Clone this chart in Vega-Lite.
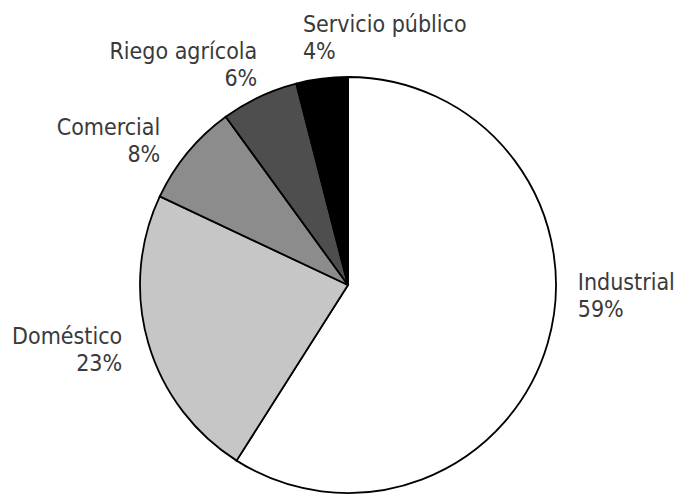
{
  "$schema": "https://vega.github.io/schema/vega-lite/v6.json",
  "width": 660,
  "height": 418,
  "padding": {"left": 18, "top": 76, "right": 0, "bottom": 0},
  "autosize": {"type": "none"},
  "background": "white",
  "config": {"view": {"stroke": null}},
  "data": {
    "values": [
      {"idx": 1, "category": "Industrial", "share": 59, "label": "Industrial\n59%"},
      {"idx": 2, "category": "Doméstico", "share": 23, "label": "Doméstico\n23%"},
      {"idx": 3, "category": "Comercial", "share": 8, "label": "Comercial\n8%"},
      {"idx": 4, "category": "Riego agrícola", "share": 6, "label": "Riego agrícola\n6%"},
      {"idx": 5, "category": "Servicio público", "share": 4, "label": "Servicio público\n4%"}
    ]
  },
  "encoding": {
    "theta": {"field": "share", "type": "quantitative", "stack": true},
    "order": {"field": "idx", "type": "quantitative"}
  },
  "layer": [
    {
      "mark": {"type": "arc", "outerRadius": 208, "stroke": "black", "strokeWidth": 1.8},
      "encoding": {
        "color": {
          "field": "category",
          "type": "nominal",
          "scale": {
            "domain": ["Industrial", "Doméstico", "Comercial", "Riego agrícola", "Servicio público"],
            "range": ["#ffffff", "#c6c6c6", "#8c8c8c", "#4e4e4e", "#000000"]
          },
          "legend": null
        }
      }
    },
    {
      "mark": {
        "type": "text",
        "radius": 232,
        "font": "DejaVu Sans Condensed, sans-serif",
        "fontSize": 23,
        "fill": "#3a3a3a",
        "lineBreak": "\n",
        "lineHeight": 27,
        "baseline": "alphabetic",
        "align": {"expr": "datum.category === 'Industrial' || datum.category === 'Servicio público' ? 'left' : 'right'"},
        "dx": {"expr": "datum.category === 'Industrial' ? 7 : datum.category === 'Doméstico' ? -3 : datum.category === 'Comercial' ? -9 : datum.category === 'Riego agrícola' ? 8 : -16"},
        "dy": {"expr": "datum.category === 'Industrial' ? -60 : datum.category === 'Doméstico' ? -6 : datum.category === 'Comercial' ? -2 : datum.category === 'Riego agrícola' ? -16 : -23"}
      },
      "encoding": {"text": {"field": "label", "type": "nominal"}}
    }
  ]
}
